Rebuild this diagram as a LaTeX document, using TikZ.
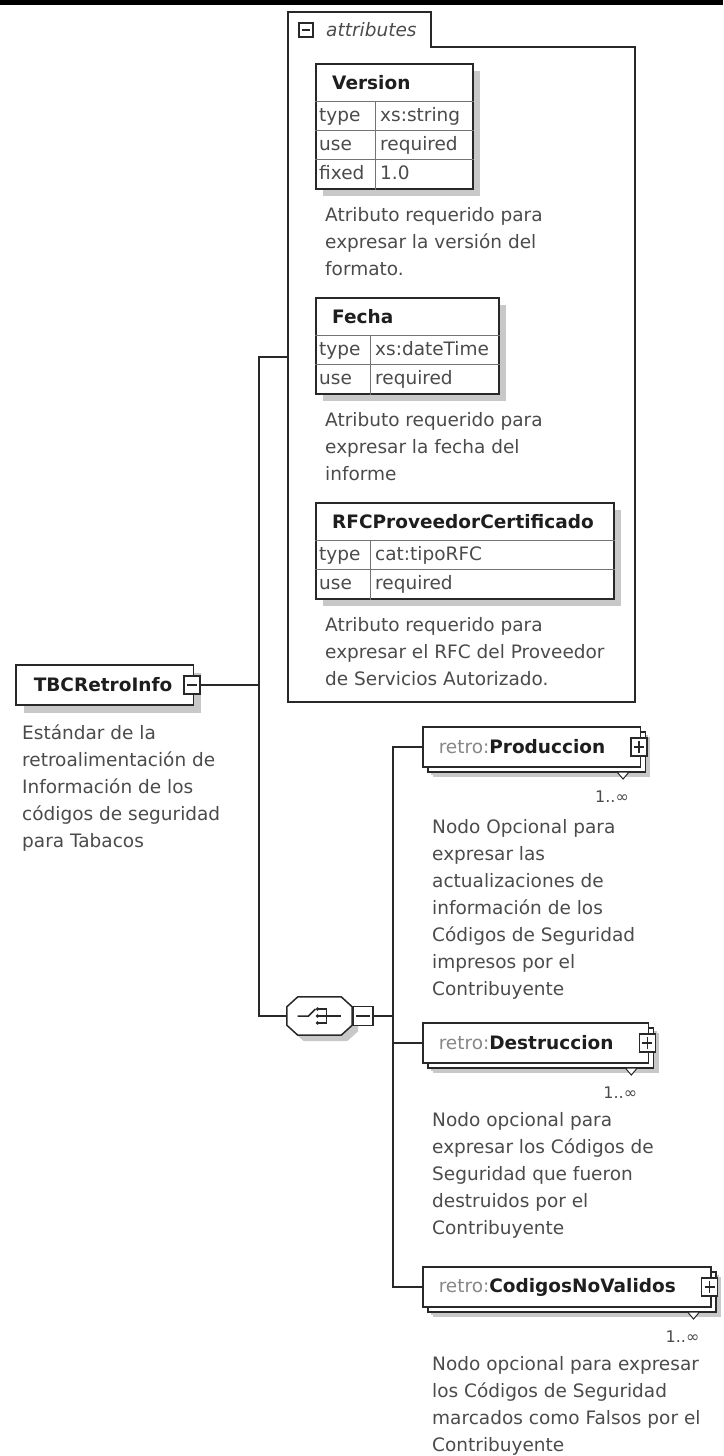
\documentclass[tikz,border=0pt]{standalone}
\usepackage{fontspec}
\setmainfont{DejaVu Sans}
\usetikzlibrary{positioning,shadows}
\definecolor{xsline}{RGB}{40,40,40}
\definecolor{xstext}{RGB}{75,75,75}
\definecolor{xstitle}{RGB}{30,30,30}
\definecolor{xsprefix}{RGB}{135,135,135}
\definecolor{xsshadow}{RGB}{200,200,200}

\begin{document}
\begin{tikzpicture}[
  x=1pt,y=-1pt,
  font=\fontsize{18.5}{27}\selectfont,
  conn/.style={draw=xsline,line width=1.4pt},
  elem/.style={draw=xsline,line width=1.5pt,fill=white,minimum height=40pt,
    inner xsep=8pt,text=xstitle,font=\fontsize{18.5}{27}\selectfont\bfseries,
    drop shadow={shadow xshift=8pt,shadow yshift=-8pt,fill=xsshadow,opacity=1}},
  multielem/.style={elem,
    drop shadow={shadow xshift=10pt,shadow yshift=-10pt,fill=xsshadow,opacity=1},
    copy shadow={shadow xshift=5pt,shadow yshift=-5pt,draw=xsline,fill=white,line width=1.5pt}},
  btn/.style={draw=xsline,line width=1.3pt,fill=white,minimum width=16pt,
    minimum height=18pt,inner sep=0pt},
  minusbtn/.style={btn,path picture={
    \draw[line width=1.3pt] ([xshift=3pt]path picture bounding box.west)
      -- ([xshift=-3pt]path picture bounding box.east);}},
  plusbtn/.style={btn,path picture={
    \draw[line width=1.3pt] ([xshift=3pt]path picture bounding box.west)
      -- ([xshift=-3pt]path picture bounding box.east);
    \draw[line width=1.3pt] ([yshift=-3pt]path picture bounding box.north)
      -- ([yshift=3pt]path picture bounding box.south);}},
  notch/.style={draw=xsline,line width=1pt,fill=white},
  card/.style={font=\fontsize{16}{18}\selectfont,text=xstext,inner sep=0pt,anchor=base east},
  % multi-line text: placed by the baseline of its last line
  desc/.style={anchor=base west,align=left,inner sep=0pt,text=xstext},
  tbl/.style={draw=xsline,line width=1.5pt,fill=white,anchor=north west,inner sep=0pt,
    drop shadow={shadow xshift=7pt,shadow yshift=-7pt,fill=xsshadow,opacity=1}},
  tbltitle/.style={font=\fontsize{18.5}{27}\selectfont\bfseries,text=xstitle,
    anchor=base west,inner sep=0pt},
  cell/.style={text=xstext,anchor=base west,inner sep=0pt},
  rowline/.style={draw=black!55,line width=1pt},
  seqline/.style={draw=xsline,line width=1.5pt,fill=white,
    drop shadow={shadow xshift=6pt,shadow yshift=-6pt,fill=xsshadow,opacity=1}},
  icon/.style={line width=1.5pt,xsline}
]
\useasboundingbox (0,0) rectangle (723,1456);
\fill (0,0) rectangle (723,5);

% attributes group
\draw[draw=xsline,line width=1.4pt] (288,702) -- (288,12) -- (431,12) -- (431,47)
  -- (635,47) -- (635,702) -- cycle;
\coordinate (attrsin) at (288,357);
\node[minusbtn,minimum width=14pt,minimum height=14pt] (attrbtn) at (306,30) {};
\node[anchor=base west,inner sep=0pt,text=xstext,font=\fontsize{18.5}{27}\selectfont\itshape]
  (attrlbl) at (326,36) {attributes};

% Version
\node[tbl,minimum width=157pt,minimum height=125pt] (ver) at (315,63) {};
\node[tbltitle] at ([xshift=17pt,yshift=-26pt]ver.north west) {Version};
\foreach \dy in {38,67,96}
  \draw[rowline] ([yshift=-\dy]ver.north west) -- ([yshift=-\dy]ver.north east);
\draw[rowline] ([xshift=60pt,yshift=-38pt]ver.north west) -- ([xshift=60pt]ver.south west);
\foreach \attr/\val [count=\i] in {type/xs:string,use/required,fixed/1.0}{
  \node[cell] at ([xshift=4pt,yshift={-(44pt+(\i-0.5)*29pt)}]ver.north west) {\attr};
  \node[cell] at ([xshift=65pt,yshift={-(44pt+(\i-0.5)*29pt)}]ver.north west) {\val};
}
\node[desc] (verdoc) at (325,275) {Atributo requerido para\\expresar la versión del\\formato.};

% Fecha
\node[tbl,minimum width=183pt,minimum height=96pt] (fecha) at (315,297) {};
\node[tbltitle] at ([xshift=17pt,yshift=-26pt]fecha.north west) {Fecha};
\foreach \dy in {38,67}
  \draw[rowline] ([yshift=-\dy]fecha.north west) -- ([yshift=-\dy]fecha.north east);
\draw[rowline] ([xshift=55pt,yshift=-38pt]fecha.north west) -- ([xshift=55pt]fecha.south west);
\foreach \attr/\val [count=\i] in {type/xs:dateTime,use/required}{
  \node[cell] at ([xshift=4pt,yshift={-(44pt+(\i-0.5)*29pt)}]fecha.north west) {\attr};
  \node[cell] at ([xshift=60pt,yshift={-(44pt+(\i-0.5)*29pt)}]fecha.north west) {\val};
}
\node[desc] (fechadoc) at (325,480) {Atributo requerido para\\expresar la fecha del\\informe};

% RFCProveedorCertificado
\node[tbl,minimum width=298pt,minimum height=96pt] (rfc) at (315,502) {};
\node[tbltitle] at ([xshift=17pt,yshift=-26pt]rfc.north west) {RFCProveedorCertificado};
\foreach \dy in {38,67}
  \draw[rowline] ([yshift=-\dy]rfc.north west) -- ([yshift=-\dy]rfc.north east);
\draw[rowline] ([xshift=55pt,yshift=-38pt]rfc.north west) -- ([xshift=55pt]rfc.south west);
\foreach \attr/\val [count=\i] in {type/cat:tipoRFC,use/required}{
  \node[cell] at ([xshift=4pt,yshift={-(44pt+(\i-0.5)*29pt)}]rfc.north west) {\attr};
  \node[cell] at ([xshift=60pt,yshift={-(44pt+(\i-0.5)*29pt)}]rfc.north west) {\val};
}
\node[desc] (rfcdoc) at (325,685) {Atributo requerido para\\expresar el RFC del Proveedor\\de Servicios Autorizado.};

% root element
\node[elem,anchor=west] (root) at (15,685) {\hspace*{10pt}TBCRetroInfo\hspace*{13pt}};
\node[minusbtn] (rootbtn) at ([xshift=-2pt]root.east) {};
\coordinate (trunk) at (259,685);
\node[desc] (rootdoc) at (22,847) {Estándar de la\\retroalimentación de\\Información de los\\códigos de seguridad\\para Tabacos};

% sequence
\node[minimum width=65pt,minimum height=38pt,inner sep=0pt] (seq) at (319.5,1016) {};
\draw[seqline] ([xshift=11pt]seq.north west) -- ([xshift=-11pt]seq.north east)
  -- ([yshift=-10pt]seq.north east) -- ([yshift=10pt]seq.south east)
  -- ([xshift=-11pt]seq.south east) -- ([xshift=11pt]seq.south west)
  -- ([yshift=10pt]seq.south west) -- ([yshift=-10pt]seq.north west) -- cycle;
\draw[icon] ([xshift=-22pt]seq.center) -- ([xshift=-11pt]seq.center)
  -- ([xshift=-4pt,yshift=7pt]seq.center);
\foreach \dy in {-7,0,7}{
  \fill[xsline] ([xshift=-2pt,yshift=\dy]seq.center) circle (1.9pt);
  \draw[icon] ([xshift=-2pt,yshift=\dy]seq.center) -- ([xshift=7pt,yshift=\dy]seq.center);
}
\draw[icon] ([xshift=7pt,yshift=7pt]seq.center) -- ([xshift=7pt,yshift=-7pt]seq.center);
\draw[icon] ([xshift=7pt]seq.center) -- ([xshift=21pt]seq.center);
\node[minusbtn,minimum width=20pt,minimum height=19pt,anchor=west] (seqbtn) at (seq.east) {};
\coordinate (bus) at (393,1016);

% children
\node[multielem,anchor=west] (prod) at (422,747)
  {\hspace*{8pt}{\mdseries\color{xsprefix}retro:}Produccion\hspace*{27pt}};
\node[multielem,anchor=west] (destr) at (422,1043)
  {\hspace*{8pt}{\mdseries\color{xsprefix}retro:}Destruccion\hspace*{27pt}};
\node[multielem,anchor=west] (codigos) at (422,1287)
  {\hspace*{8pt}{\mdseries\color{xsprefix}retro:}CodigosNoValidos\hspace*{27pt}};
\foreach \n in {prod,destr,codigos}{
  \draw[notch] ([xshift=-24pt,yshift=-25pt]\n.east) -- ++(12pt,0) -- ++(-6pt,-7pt) -- cycle;
  \node[plusbtn] (\n btn) at ([xshift=-2pt]\n.east) {};
  \node[card] at ([xshift=-12pt,yshift=-55pt]\n.east) {1..∞};
}
\node[desc] (proddoc) at (432,995) {Nodo Opcional para\\expresar las\\actualizaciones de\\información de los\\Códigos de Seguridad\\impresos por el\\Contribuyente};
\node[desc] (destrdoc) at (432,1234) {Nodo opcional para\\expresar los Códigos de\\Seguridad que fueron\\destruidos por el\\Contribuyente};
\node[desc] (codigosdoc) at (432,1451) {Nodo opcional para expresar\\los Códigos de Seguridad\\marcados como Falsos por el\\Contribuyente};

% connectors
\draw[conn] (rootbtn.east) -- (trunk);
\draw[conn] (attrsin) -| (trunk) |- (seq.west);
\draw[conn] (seqbtn.east) -- (bus);
\draw[conn] (prod.west) -| (bus) |- (codigos.west);
\draw[conn] (destr.west) -- (destr.west -| bus);
\end{tikzpicture}
\end{document}
